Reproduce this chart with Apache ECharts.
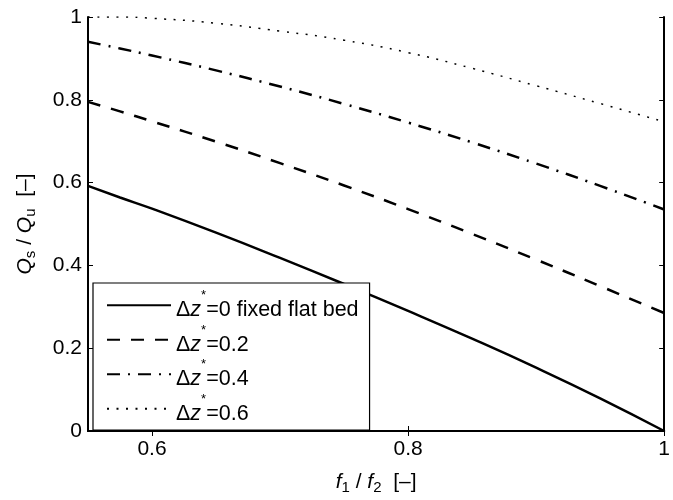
<!DOCTYPE html>
<html>
<head>
<meta charset="utf-8">
<script src="https://cdn.jsdelivr.net/npm/echarts@6/dist/echarts.min.js"></script>
<style>
  html, body { margin: 0; padding: 0; background: #fff; }
  #chart { width: 673px; height: 500px; }
</style>
</head>
<body>
<div id="chart"></div>
<script>
// f1 / f2 sample points
const fRatio = [0.55, 0.575, 0.60, 0.65, 0.70, 0.75, 0.80, 0.85, 0.90, 0.95, 1.00];

// Qs / Qu for each bed step
const flatBed = [0.592, 0.564, 0.537, 0.479, 0.418, 0.355, 0.290, 0.223, 0.153, 0.079, 0.0];
const dz02 = [0.795, 0.772, 0.748, 0.699, 0.647, 0.593, 0.536, 0.476, 0.414, 0.350, 0.285];
const dz04 = [0.940, 0.924, 0.907, 0.871, 0.832, 0.790, 0.745, 0.697, 0.646, 0.592, 0.535];
const dz06 = [1.000, 1.000, 0.997, 0.985, 0.966, 0.944, 0.914, 0.876, 0.834, 0.791, 0.747];

const seriesNames = ['dz0', 'dz02', 'dz04', 'dz06'];
const legendText = {
    dz0: '=0 fixed flat bed',
    dz02: '=0.2',
    dz04: '=0.4',
    dz06: '=0.6'
};

const xTicks = [0.6, 0.8, 1];

const FONT = 'Liberation Sans, Arial, Helvetica, sans-serif';

const toPairs = ys => fRatio.map((x, i) => [x, ys[i]]);

const chart = echarts.init(document.getElementById('chart'));

const lineSeries = (name, values, type, width) => ({
    name: name,
    type: 'line',
    data: toPairs(values),
    symbol: 'circle',
    showSymbol: false,
    smooth: true,
    lineStyle: { color: '#000', width: width, type: type, cap: 'butt' },
    itemStyle: { color: '#000' },
    z: 3
});

const frameAxis = { show: true, lineStyle: { color: '#000', width: 2 } };
const inTicks = { show: true, inside: true, length: 5, lineStyle: { color: '#000', width: 1 } };

const option = {
    animation: false,
    backgroundColor: '#fff',
    grid: { left: 88, right: 3, top: 17, bottom: 64 },
    legend: {
        orient: 'vertical',
        left: 93, top: 283,
        backgroundColor: '#fff',
        borderColor: '#000', borderWidth: 1.2, borderRadius: 0,
        padding: [6, 11, 5, 13],
        itemWidth: 64, itemHeight: 14, itemGap: 2, itemTextGap: 6,
        itemStyle: { opacity: 0 },
        data: seriesNames,
        formatter: name => '{d|Δ}{z|z}{sup|*}{d|' + legendText[name] + '}',
        textStyle: {
            fontFamily: FONT, fontSize: 21.5, color: '#000',
            rich: {
                d: { fontFamily: FONT, fontSize: 21.5, color: '#000', lineHeight: 32.5, verticalAlign: 'bottom' },
                z: { fontFamily: FONT, fontSize: 21.5, color: '#000', fontStyle: 'italic', lineHeight: 32.5, verticalAlign: 'bottom' },
                sup: { fontFamily: FONT, fontSize: 13, color: '#000', lineHeight: 32.5, verticalAlign: 'top' }
            }
        }
    },
    xAxis: [{
        type: 'value',
        min: 0.55, max: 1,
        name: '{f|f}{s|1}{t| / }{f|f}{s|2}{t|  [–]}',
        nameLocation: 'middle',
        nameGap: 38,
        nameTextStyle: {
            fontFamily: FONT, color: '#000',
            rich: {
                f: { fontFamily: FONT, fontSize: 21, fontStyle: 'italic', color: '#000' },
                t: { fontFamily: FONT, fontSize: 21, color: '#000' },
                s: { fontFamily: FONT, fontSize: 15, color: '#000', verticalAlign: 'bottom', padding: [11, 0, 0, 0] }
            }
        },
        axisLine: frameAxis,
        axisTick: Object.assign({ customValues: xTicks }, inTicks),
        axisLabel: {
            customValues: xTicks, margin: 8,
            fontFamily: FONT, fontSize: 21, color: '#000',
            formatter: v => String(+v.toFixed(1))
        },
        splitLine: { show: false }
    }, {
        type: 'value',
        position: 'top',
        min: 0.55, max: 1,
        axisLine: frameAxis,
        axisTick: Object.assign({ customValues: xTicks }, inTicks),
        axisLabel: { show: false },
        splitLine: { show: false }
    }],
    yAxis: [{
        type: 'value',
        min: 0, max: 1, interval: 0.2,
        name: '{q|Q}{s|s}{t| / }{q|Q}{s|u}{t|  [–]}',
        nameLocation: 'middle',
        nameRotate: 90,
        nameGap: 50,
        nameTextStyle: {
            fontFamily: FONT, color: '#000',
            rich: {
                q: { fontFamily: FONT, fontSize: 21, fontStyle: 'italic', color: '#000' },
                t: { fontFamily: FONT, fontSize: 21, color: '#000' },
                s: { fontFamily: FONT, fontSize: 15, color: '#000', verticalAlign: 'bottom', padding: [11, 0, 0, 0] }
            }
        },
        axisLine: frameAxis,
        axisTick: inTicks,
        axisLabel: {
            margin: 6,
            fontFamily: FONT, fontSize: 21, color: '#000',
            formatter: v => String(+v.toFixed(1))
        },
        splitLine: { show: false }
    }, {
        type: 'value',
        position: 'right',
        min: 0, max: 1, interval: 0.2,
        axisLine: frameAxis,
        axisTick: inTicks,
        axisLabel: { show: false },
        splitLine: { show: false }
    }],
    series: [
        lineSeries('dz0', flatBed, 'solid', 2.5),
        lineSeries('dz02', dz02, [13, 11], 2.5),
        lineSeries('dz04', dz04, [13, 8, 2, 8], 2.5),
        lineSeries('dz06', dz06, [2, 7.5], 1.5)
    ]
};

chart.setOption(option);
</script>
</body>
</html>
